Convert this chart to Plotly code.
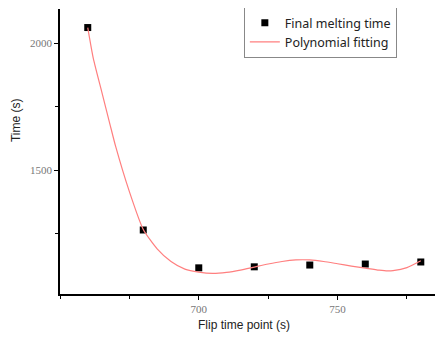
import plotly.graph_objects as go

flip_time = [660, 680, 700, 720, 740, 760, 780]
melting_time = [2061, 1264, 1115, 1119, 1126, 1130, 1138]

fit_x = [660, 662, 665, 668, 670, 675, 680, 685, 690, 695, 700, 705, 710, 715, 720,
         725, 730, 735, 740, 745, 750, 755, 760, 765, 768, 770, 775, 780]
fit_y = [2061, 1940, 1810, 1680, 1595, 1415, 1266, 1190, 1140, 1110, 1098, 1093, 1097,
         1106, 1118, 1130, 1140, 1146, 1146, 1140, 1131, 1122, 1114, 1106, 1103, 1104,
         1116, 1143]

x_tick_vals = [700, 750]
y_tick_vals = [1500, 2000]

fig = go.Figure()
fig.add_trace(go.Scatter(
    x=flip_time, y=melting_time, mode="markers", name="Final melting time",
    marker=dict(symbol="square", size=7, color="black"),
))
fig.add_trace(go.Scatter(
    x=fit_x, y=fit_y, mode="lines", name="Polynomial fitting",
    line=dict(color="#ff7f7f", width=1.2, shape="spline", smoothing=0.6),
))

axis_common = dict(
    showgrid=False, zeroline=False, showline=True, linecolor="black", linewidth=1.5,
    ticks="outside", ticklen=4, tickwidth=1, tickcolor="black", automargin=False,
    tickfont=dict(family="Liberation Serif", size=11, color="#777777"),
)

fig.update_xaxes(
    range=[650, 788], tickvals=x_tick_vals,
    minor=dict(ticks="outside", ticklen=3, tickcolor="black", dtick=25, tick0=650),
    **axis_common,
)
fig.update_yaxes(
    range=[1012, 2134], tickvals=y_tick_vals,
    minor=dict(ticks="outside", ticklen=3, tickcolor="black", dtick=250, tick0=1000),
    **axis_common,
)

fig.update_layout(
    width=443, height=338,
    margin=dict(l=52, r=8, t=1, b=52, autoexpand=False),
    paper_bgcolor="white", plot_bgcolor="white",
    showlegend=True,
    legend=dict(
        x=0.48, y=1.007, xanchor="left", yanchor="top",
        bordercolor="#888888", borderwidth=1, bgcolor="white",
        font=dict(family="Noto Sans", size=12.5, color="#222222"),
        tracegroupgap=0, itemwidth=30,
    ),
    annotations=[
        dict(text="Time (s)", xref="paper", yref="paper",
             x=-0.115, y=0.61, xanchor="center", yanchor="middle", textangle=-90,
             showarrow=False,
             font=dict(family="Liberation Sans", size=12, color="#222222")),
        dict(text="Flip time point (s)", xref="paper", yref="paper",
             x=0.48, y=-0.109, xanchor="center", yanchor="middle",
             showarrow=False,
             font=dict(family="Liberation Sans", size=12, color="#222222")),
    ],
)

fig.write_html("out.html")
